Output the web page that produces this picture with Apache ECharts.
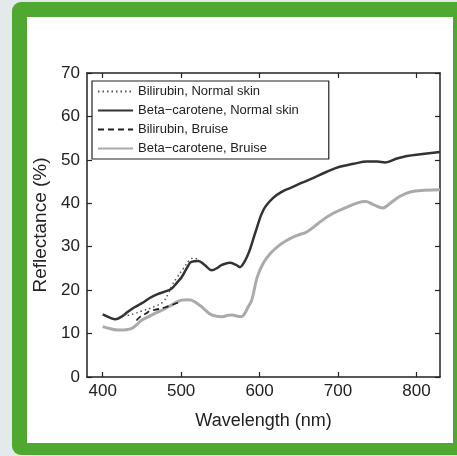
<!DOCTYPE html>
<html>
<head>
<meta charset="utf-8">
<script src="https://cdn.jsdelivr.net/npm/echarts@6/dist/echarts.min.js"></script>
<style>
html,body{margin:0;padding:0;background:#e4e9ec;}
#c{width:457px;height:456px;}
</style>
</head>
<body>
<div id="c"></div>
<script>
const xTicks = [400, 500, 600, 700, 800];
const seriesNames = ['Bilirubin, Normal skin', 'Beta\u2212carotene, Normal skin', 'Bilirubin, Bruise', 'Beta\u2212carotene, Bruise'];

const wlBiliNormal = [426, 432, 440, 450, 460, 467, 477, 483, 488, 495, 503, 510, 516, 522];
const biliNormal   = [14.3, 14.2, 14.6, 15.2, 15.8, 16.3, 17.3, 19.0, 21.0, 23.0, 25.0, 26.8, 27.4, 27.0];

const wlBetaNormal = [400, 410, 416, 425, 432, 440, 450, 460, 470, 480, 488, 495, 501, 508, 513, 522, 530, 539, 546, 552, 562, 570, 575, 580, 584, 588, 595, 605, 617, 630, 639, 655, 668, 685, 702, 720, 737, 750, 760, 775, 788, 805, 830];
const betaNormal   = [14.4, 13.6, 13.3, 14.0, 15.0, 16.0, 17.0, 18.2, 19.1, 19.7, 20.4, 21.8, 23.1, 25.3, 26.5, 26.7, 25.8, 24.6, 25.1, 25.8, 26.3, 25.8, 25.3, 26.3, 27.7, 29.5, 33.5, 38.5, 41.2, 42.8, 43.5, 44.8, 45.8, 47.2, 48.4, 49.1, 49.6, 49.6, 49.4, 50.3, 50.9, 51.3, 51.8];

const wlBiliBruise = [443, 448, 455, 460, 470, 479, 488, 496, 501];
const biliBruise   = [13.0, 13.9, 14.6, 15.2, 15.6, 16.0, 16.6, 17.1, 17.5];

const wlBetaBruise = [400, 410, 420, 430, 437, 443, 450, 460, 467, 478, 488, 495, 501, 508, 513, 520, 526, 532, 539, 545, 552, 560, 565, 572, 577, 581, 585, 590, 597, 605, 614, 625, 635, 648, 660, 675, 690, 710, 725, 735, 745, 757, 765, 778, 792, 810, 830];
const betaBruise   = [11.6, 11.1, 10.8, 10.9, 11.2, 12.0, 13.1, 14.0, 14.7, 15.6, 16.6, 17.3, 17.7, 17.8, 17.7, 17.0, 16.2, 15.2, 14.3, 14.0, 13.9, 14.2, 14.3, 14.0, 13.9, 14.6, 16.0, 17.7, 23.0, 26.3, 28.5, 30.3, 31.5, 32.6, 33.4, 35.4, 37.3, 39.0, 40.1, 40.4, 39.7, 38.9, 39.8, 41.5, 42.6, 43.0, 43.1];

function pairs(xs, ys) { return xs.map((x, i) => [x, ys[i]]); }

const chart = echarts.init(document.getElementById('c'), null, {renderer: 'canvas'});
const font = 'Liberation Sans, Arial, sans-serif';
const tickStyle = {show: true, inside: true, length: 5, lineStyle: {color: '#222', width: 1.2}};
const axisLine = {show: true, onZero: false, lineStyle: {color: '#222', width: 1.5}};

chart.setOption({
  backgroundColor: '#e4e9ec',
  animation: false,
  graphic: [
    {type: 'rect', z: -10, shape: {x: 12, y: 2, width: 470, height: 453, r: 9}, style: {fill: '#4fa82f'}},
    {type: 'rect', z: -9, shape: {x: 27, y: 17, width: 426, height: 426}, style: {fill: '#ffffff'}}
  ],
  grid: {left: 87, top: 73, right: 17, bottom: 79, containLabel: false},
  legend: {
    orient: 'vertical', left: 92, top: 81,
    data: seriesNames,
    itemWidth: 35, itemHeight: 14, itemGap: 6,
    padding: [4, 30, 4, 5],
    borderColor: '#222', borderWidth: 1.2, backgroundColor: '#fff',
    itemStyle: {opacity: 0},
    textStyle: {fontFamily: font, fontSize: 13, color: '#222'}
  },
  xAxis: [{
    type: 'value', min: 380, max: 830,
    name: 'Wavelength (nm)', nameLocation: 'middle', nameGap: 35,
    nameTextStyle: {fontFamily: font, fontSize: 18, color: '#222'},
    axisLine: axisLine,
    axisTick: Object.assign({customValues: xTicks}, tickStyle),
    axisLabel: {customValues: xTicks, fontFamily: font, fontSize: 17, color: '#222', margin: 6},
    splitLine: {show: false}
  }, {
    type: 'value', min: 380, max: 830, position: 'top',
    axisLine: axisLine,
    axisTick: Object.assign({customValues: xTicks}, tickStyle),
    axisLabel: {show: false}, splitLine: {show: false}
  }],
  yAxis: [{
    type: 'value', min: 0, max: 70, interval: 10,
    name: 'Reflectance (%)', nameLocation: 'middle', nameGap: 37,
    nameTextStyle: {fontFamily: font, fontSize: 19, color: '#222'},
    axisLine: axisLine, axisTick: tickStyle,
    axisLabel: {fontFamily: font, fontSize: 17, color: '#222', margin: 7},
    splitLine: {show: false}
  }, {
    type: 'value', min: 0, max: 70, interval: 10, position: 'right',
    axisLine: axisLine, axisTick: tickStyle,
    axisLabel: {show: false}, splitLine: {show: false}
  }],
  series: [
    {name: seriesNames[3], type: 'line', smooth: 0.4, symbol: 'none', data: pairs(wlBetaBruise, betaBruise),
     lineStyle: {color: '#aaaaaa', width: 3}, itemStyle: {color: '#aaaaaa'}, z: 2},
    {name: seriesNames[1], type: 'line', smooth: 0.4, symbol: 'none', data: pairs(wlBetaNormal, betaNormal),
     lineStyle: {color: '#333333', width: 2.5}, itemStyle: {color: '#333333'}, z: 3},
    {name: seriesNames[0], type: 'line', smooth: 0.4, symbol: 'none', data: pairs(wlBiliNormal, biliNormal),
     lineStyle: {color: '#555555', width: 1.5, type: [1.5, 3]}, itemStyle: {color: '#555555'}, z: 4},
    {name: seriesNames[2], type: 'line', smooth: 0.4, symbol: 'none', data: pairs(wlBiliBruise, biliBruise),
     lineStyle: {color: '#222222', width: 1.8, type: [6, 4]}, itemStyle: {color: '#222222'}, z: 5}
  ]
});
</script>
</body>
</html>
